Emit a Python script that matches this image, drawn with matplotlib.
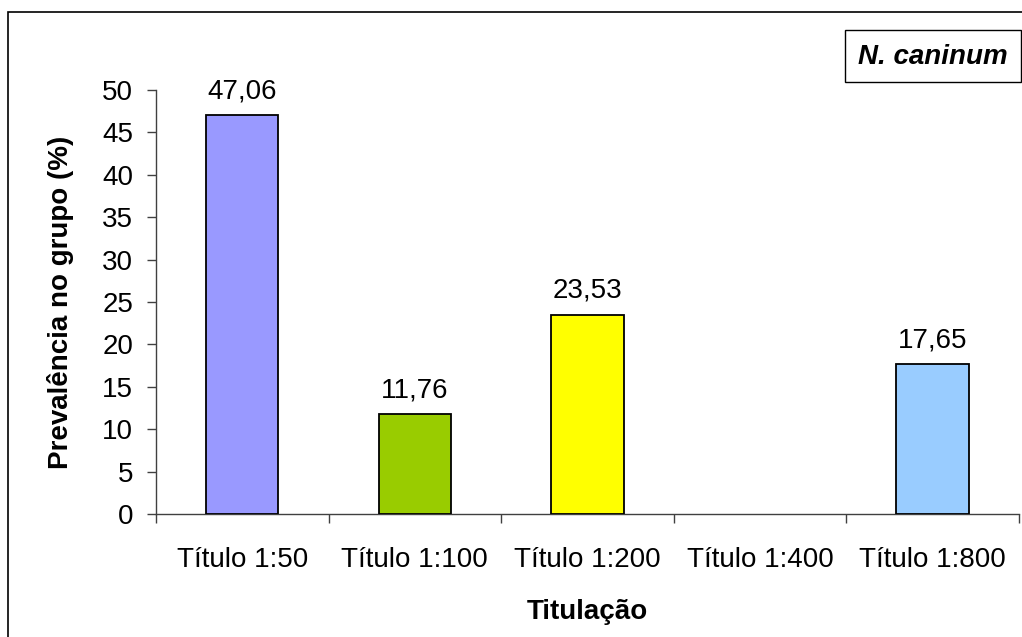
import matplotlib
matplotlib.use("Agg")
import matplotlib.pyplot as plt
from matplotlib.patches import Rectangle
import numpy as np

categories = ["Título 1:50", "Título 1:100", "Título 1:200", "Título 1:400", "Título 1:800"]
values = [47.06, 11.76, 23.53, 0.0, 17.65]
colors = ["#9999FF", "#99CC00", "#FFFF00", "#FFFFFF", "#99CCFF"]
yticks = [0, 5, 10, 15, 20, 25, 30, 35, 40, 45, 50]

plt.rcParams["font.family"] = ["Liberation Sans", "DejaVu Sans"]
FS = 20

fig = plt.figure(figsize=(10.22, 6.37), dpi=100)
ax = fig.add_axes([0.1526, 0.193, 0.8444, 0.6657])

x = np.arange(len(categories))
for xi, v, c in zip(x, values, colors):
    if v > 0:
        ax.bar(xi, v, width=0.42, color=c, edgecolor="black", linewidth=1.3, zorder=3)
        ax.text(xi, v + 1.25, f"{v:.2f}".replace(".", ","), ha="center", va="bottom", fontsize=FS)

ax.set_xlim(-0.5, len(categories) - 0.5)
ax.set_ylim(0, 50)
ax.set_yticks(yticks)
ax.set_yticklabels([str(t) for t in yticks], fontsize=FS)

ax.set_xticks(x)
ax.set_xticklabels(categories, fontsize=FS)
ax.set_xticks(np.arange(len(categories) + 1) - 0.5, minor=True)
ax.tick_params(axis="x", which="major", length=0, pad=24)
ax.tick_params(axis="x", which="minor", length=6.5, width=1, color="#404040", direction="out")
ax.tick_params(axis="y", length=6.5, width=1, color="#404040", direction="out", pad=10)

for side in ("top", "right"):
    ax.spines[side].set_visible(False)
for side in ("left", "bottom"):
    ax.spines[side].set_color("#404040")
    ax.spines[side].set_linewidth(1)

ax.set_xlabel("Titulação", fontsize=FS, fontweight="bold", labelpad=18.5)
ax.set_ylabel("Prevalência no grupo (%)", fontsize=FS, fontweight="bold", labelpad=20)

# outer chart frame
fig.patches.append(Rectangle((8 / 1022, -0.05), 1.1, 1.05 - 12 / 637,
                             transform=fig.transFigure, fill=False,
                             edgecolor="black", linewidth=1.2))

# species label box
fig.patches.append(Rectangle((845 / 1022, 1 - 82 / 637), 176 / 1022, 52 / 637,
                             transform=fig.transFigure, facecolor="white",
                             edgecolor="black", linewidth=1))
fig.text(933 / 1022, 1 - 57 / 637, "N. caninum", ha="center", va="center",
         fontsize=FS, fontweight="bold", fontstyle="italic")

fig.savefig("out.png", dpi=100)
